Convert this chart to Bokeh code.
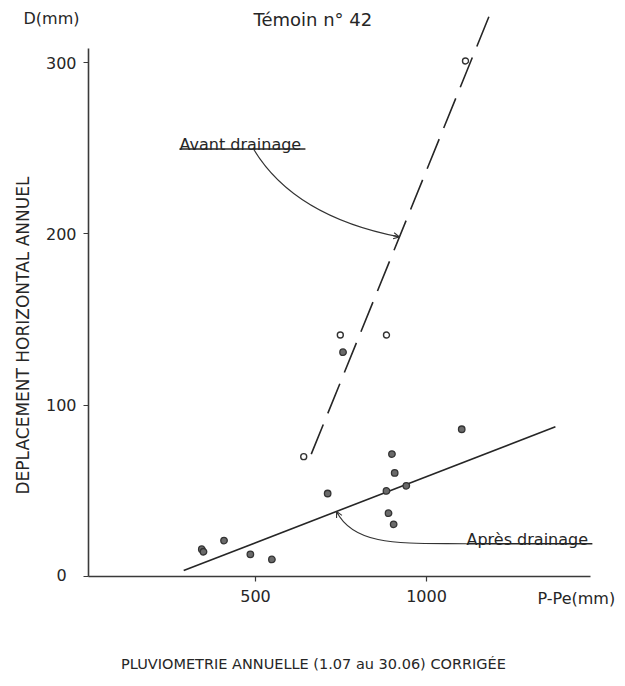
import numpy as np
from bokeh.plotting import figure
from bokeh.models import FixedTicker, Label, Arrow, OpenHead
from bokeh.embed import file_html
from bokeh.resources import INLINE

# ---- data ----
avant_x = [641, 748, 883, 1114]
avant_y = [70, 141, 141, 301]
apres_x = [343, 348, 408, 485, 548, 711, 756, 883, 889, 899, 904, 907, 941, 1103]
apres_y = [16, 14.5, 21, 13, 10, 48.5, 131, 50, 37, 71.5, 30.5, 60.5, 53, 86]
avant_fit_x = [663, 1193]
avant_fit_y = [71.5, 332]
apres_fit_x = [290, 1377]
apres_fit_y = [3.5, 87.5]
x_ticks = [500, 1000]
y_ticks = [0, 100, 200, 300]

FONT = "DejaVu Sans"
INK = "#262626"
X0 = 11.7  # where the vertical axis stands

p = figure(width=617, height=678, x_range=(-245.6, 1558.5), y_range=(-59.5, 336.3),
           output_backend="svg", toolbar_location=None,
           min_border_left=0, min_border_right=0, min_border_top=0, min_border_bottom=0)
p.outline_line_color = None
p.grid.visible = False
p.background_fill_color = "white"
p.border_fill_color = "white"

for ax in (p.xaxis, p.yaxis):
    ax.axis_line_color = "#3a3a3a"
    ax.axis_line_width = 1.6
    ax.major_tick_line_color = "#3a3a3a"
    ax.major_tick_line_width = 1.2
    ax.major_tick_in = 0
    ax.major_tick_out = 5
    ax.minor_tick_line_color = None
    ax.major_label_text_font = FONT
    ax.major_label_text_font_size = "16px"
    ax.major_label_text_color = INK
p.xaxis.ticker = FixedTicker(ticks=x_ticks)
p.yaxis.ticker = FixedTicker(ticks=y_ticks)
p.yaxis.major_label_overrides = {0: ""}
p.yaxis.fixed_location = X0
p.xaxis.fixed_location = 0
p.yaxis.bounds = (0, 308)
p.xaxis.bounds = (X0, 1479.5)
p.xaxis.major_label_standoff = 8
p.yaxis.major_label_standoff = 7

# fitted lines
p.line(avant_fit_x, avant_fit_y, line_color=INK, line_width=1.6, line_dash="32 12")
p.line(apres_fit_x, apres_fit_y, line_color=INK, line_width=1.6)

# points
p.scatter(avant_x, avant_y, size=6, marker="circle", fill_color="white",
          line_color="#333333", line_width=1.4)
p.scatter(apres_x, apres_y, size=6.5, marker="circle", fill_color="#6a6a6a",
          line_color="#333333", line_width=1.3)

# "Avant drainage" annotation
p.add_layout(Label(x=277.8, y=252.5, text="Avant drainage", text_font=FONT,
                   text_font_size="16px", text_color=INK, text_baseline="alphabetic"))
p.line([277.8, 646], [249.6, 249.6], line_color=INK, line_width=1.5)
tip_ax = 921
tip_ay = float(np.interp(tip_ax, avant_fit_x, avant_fit_y))
cxa, cya = 612.6, 210.3
p.quadratic(x0=[494.2], y0=[249.6], x1=[tip_ax], y1=[tip_ay], cx=[cxa], cy=[cya],
            line_color="#333333", line_width=1.1)
p.add_layout(Arrow(end=OpenHead(size=6, line_width=1.1, line_color="#333333"),
                   x_start=tip_ax - 0.06 * (tip_ax - cxa), y_start=tip_ay - 0.06 * (tip_ay - cya),
                   x_end=tip_ax, y_end=tip_ay, line_width=1.1, line_color="#333333"))

# "Après drainage" annotation
p.add_layout(Label(x=1117, y=21.8, text="Après drainage", text_font=FONT,
                   text_font_size="16px", text_color=INK, text_baseline="alphabetic"))
p.line([1117, 1485], [19.2, 19.2], line_color=INK, line_width=1.5)
tip_bx = 737
tip_by = float(np.interp(tip_bx, apres_fit_x, apres_fit_y))
c1x, c1y, c2x, c2y = 938.6, 19.6, 790.0, 17.0
p.bezier(x0=[1117], y0=[19.2], x1=[tip_bx], y1=[tip_by], cx0=[c1x], cy0=[c1y],
         cx1=[c2x], cy1=[c2y], line_color="#333333", line_width=1.1)
p.add_layout(Arrow(end=OpenHead(size=6, line_width=1.1, line_color="#333333"),
                   x_start=tip_bx - 0.08 * (tip_bx - c2x), y_start=tip_by - 0.08 * (tip_by - c2y),
                   x_end=tip_bx, y_end=tip_by, line_width=1.1, line_color="#333333"))

# texts around the plot
def lab(x, y, t, size, align="center", baseline="middle", angle=0):
    p.add_layout(Label(x=x, y=y, text=t, text_font=FONT, text_font_size=size,
                       text_color=INK, text_align=align, text_baseline=baseline,
                       angle=angle))

lab(-96.5, 325.7, "D(mm)", "16px")
lab(494.2, 325.2, "Témoin n° 42", "18px", align="left")
lab(-67.3, 1.2, "0", "16px")
lab(1324.6, -12.8, "P-Pe(mm)", "16px", align="left")
lab(-178.4, 140.7, "DEPLACEMENT HORIZONTAL ANNUEL", "17px", angle=np.pi / 2)
lab(669.6, -50.8, "PLUVIOMETRIE ANNUELLE (1.07 au 30.06) CORRIGÉE", "14.5px")

open("out.html", "w").write(file_html(p, INLINE))
